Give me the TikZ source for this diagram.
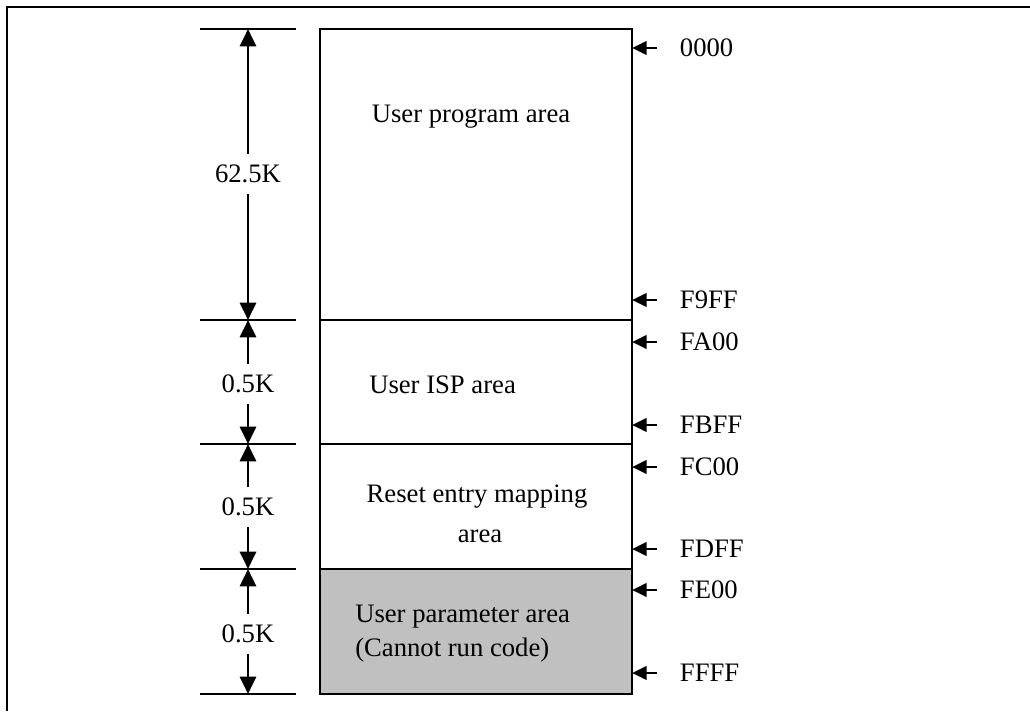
\documentclass[tikz,border=0pt]{standalone}
\usepackage{fontspec}
\setmainfont{Liberation Serif}
\usetikzlibrary{arrows.meta}
\definecolor{gris}{HTML}{C0C0C0}
\begin{document}
\begin{tikzpicture}[x=0.75pt, y=-0.75pt,
        zona/.style={line width=1.2pt},
        marca/.style={line width=1pt},
        cota/.style={line width=2.2pt, -{Triangle[length=13pt,width=12pt]}},
        direc/.style={line width=2.2pt, -{Triangle[length=11pt,width=10pt]}},
        texto/.style={font=\fontsize{20}{24}\selectfont, inner sep=0pt},
        tam/.style={font=\fontsize{20}{24}\selectfont, inner xsep=0pt, inner ysep=8pt},
        dir/.style={font=\fontsize{20}{24}\selectfont, anchor=west, inner ysep=0pt, inner xsep=17pt}
    ]
        \useasboundingbox (0,0) rectangle (1030,711);
        % marco
        \draw[line width=1.5pt] (7,711) -- (7,7) -- (1030,7);
        % mapa de memoria
        \fill[gris] (320,569) rectangle (632,694);
        \draw[zona] (320,29) rectangle (632,694);
        \draw[zona] (320,320) -- (632,320);
        \draw[zona] (320,444) -- (632,444);
        \draw[zona] (320,569) -- (632,569);
        \coordinate (der) at (632,0);
        % marcas de tamano
        \foreach \y/\n in {29/t0, 320/t1, 444/t2, 569/t3, 694/t4} {
            \draw[marca] (200,\y) -- (296,\y);
            \coordinate (\n) at (248,\y);
        }
        \node[tam] (k1) at (248,174) {62.5K};
        \node[tam] (k2) at (248,384) {0.5K};
        \node[tam] (k3) at (248,507) {0.5K};
        \node[tam] (k4) at (248,634) {0.5K};
        \draw[cota] (k1) -- (t0);
        \draw[cota] (k1) -- (t1);
        \draw[cota] (k2) -- (t1);
        \draw[cota] (k2) -- (t2);
        \draw[cota] (k3) -- (t2);
        \draw[cota] (k3) -- (t3);
        \draw[cota] (k4) -- (t3);
        \draw[cota] (k4) -- (t4);
        % textos de zonas
        \node[texto, anchor=base] (prog) at (471,122) {User program area};
        \node[texto, anchor=base west] (isp) at (369,393) {User ISP area};
        \node[texto, anchor=base] (rst1) at (477,502) {Reset entry mapping};
        \node[texto, anchor=base] (rst2) at (480,542) {area};
        \node[texto, anchor=base west] (par1) at (355,622) {User parameter area};
        \node[texto, anchor=base west] (par2) at (355,656) {(Cannot run code)};
        % direcciones
        \foreach \y/\d [count=\i] in {48/0000, 300/F9FF, 342/FA00, 425/FBFF,
                467/FC00, 549/FDFF, 590/FE00, 673/FFFF} {
            \node[dir] (a\i) at (657,\y) {\d};
            \draw[direc] (a\i.west) -- (a\i.west -| der);
        }
\end{tikzpicture}
\end{document}
